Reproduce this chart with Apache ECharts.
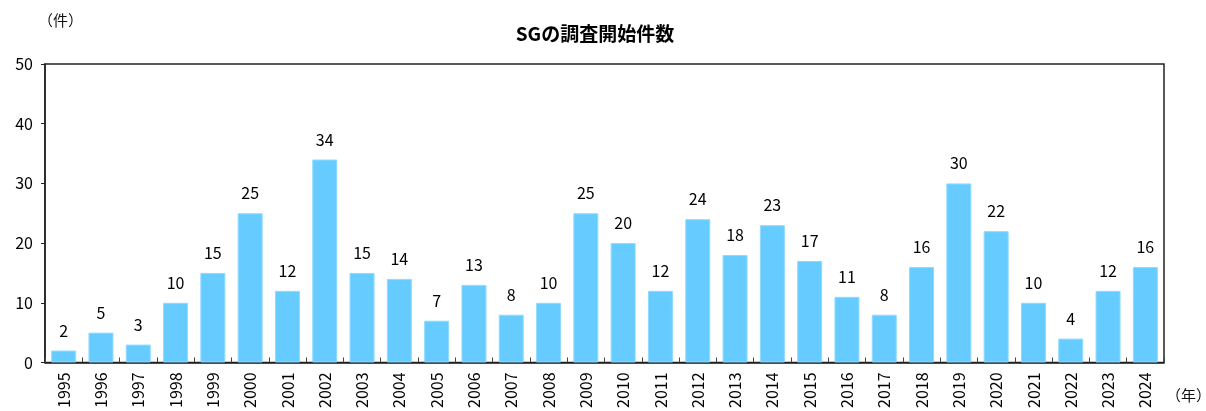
<!DOCTYPE html>
<html>
<head>
<meta charset="utf-8">
<script src="https://cdn.jsdelivr.net/npm/echarts@6/dist/echarts.min.js"></script>
<style>
  html, body { margin: 0; padding: 0; background: #fff; }
  #chart { width: 1206px; height: 411px; }
</style>
</head>
<body>
<div id="chart"></div>
<script>
// 年（カテゴリ）
var years = ['1995', '1996', '1997', '1998', '1999', '2000', '2001', '2002', '2003', '2004',
  '2005', '2006', '2007', '2008', '2009', '2010', '2011', '2012', '2013', '2014',
  '2015', '2016', '2017', '2018', '2019', '2020', '2021', '2022', '2023', '2024']
// 調査開始件数
var counts = [2, 5, 3, 10, 15, 25, 12, 34, 15, 14,
  7, 13, 8, 10, 25, 20, 12, 24, 18, 23,
  17, 11, 8, 16, 30, 22, 10, 4, 12, 16]

var font = '"Noto Sans CJK JP", "Noto Sans", sans-serif'

var myChart = echarts.init(document.getElementById('chart'))
var options = {
  animation: false,
  textStyle: { fontFamily: font },
  title: {
    text: 'SGの調査開始件数',
    left: 590,
    top: 19,
    textAlign: 'center',
    textStyle: { fontSize: 19, fontWeight: 'bold', color: '#000', fontFamily: font }
  },
  graphic: [
    { type: 'text', left: 38, top: 13, style: { text: '（件）', fill: '#111', font: '15px ' + font } },
    { type: 'text', left: 1166, top: 388, style: { text: '（年）', fill: '#111', font: '15px ' + font } }
  ],
  grid: {
    left: 45,
    right: 42,
    top: 64,
    bottom: 48,
    show: true,
    borderColor: '#222',
    borderWidth: 1.5
  },
  xAxis: {
    type: 'category',
    data: years,
    axisLine: { lineStyle: { color: '#222', width: 1.5 } },
    axisTick: { show: true, inside: true, length: 5, lineStyle: { color: '#444' } },
    axisLabel: { rotate: 90, margin: 10, fontSize: 16, color: '#000', interval: 0 }
  },
  yAxis: {
    type: 'value',
    min: 0,
    max: 50,
    interval: 10,
    axisLine: { show: true, lineStyle: { color: '#222', width: 1.5 } },
    axisTick: { show: true, length: 4, lineStyle: { color: '#222' } },
    axisLabel: { fontSize: 16, color: '#000', margin: 12 },
    splitLine: { show: false }
  },
  series: [
    {
      type: 'bar',
      data: counts,
      barCategoryGap: '33%',
      itemStyle: { color: '#66CCFF', borderColor: '#8FDBFF', borderWidth: 1 },
      label: { show: true, position: 'top', distance: 12, fontSize: 16, color: '#000' }
    }
  ]
}
myChart.setOption(options)
</script>
</body>
</html>
